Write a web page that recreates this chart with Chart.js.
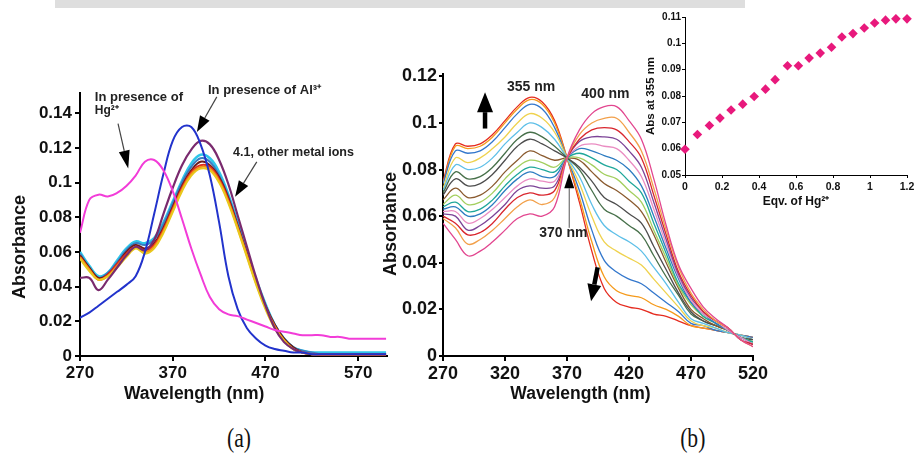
<!DOCTYPE html>
<html>
<head>
<meta charset="utf-8">
<script src="https://cdn.jsdelivr.net/npm/chart.js@4"></script>
<style>
body { margin:0; width:914px; height:460px; overflow:hidden; position:relative; background:#fff; }
canvas { position:absolute; }
#chartA { left:0; top:80px; }
#chartB { left:380px; top:50px; }
#chartC { left:640px; top:0; }
.band { position:absolute; left:55px; top:0; width:690px; height:8px; background:#dedede; }
.panel { position:absolute; top:423px; font-family:"Liberation Serif", serif; font-size:27px; color:#111; transform:scaleX(0.8); }
</style>
</head>
<body>
<div class="band"></div>
<canvas id="chartA" width="400" height="330"></canvas>
<canvas id="chartB" width="420" height="360"></canvas>
<canvas id="chartC" width="290" height="230"></canvas>
<div class="panel" style="left:224px">(a)</div>
<div class="panel" style="left:677px">(b)</div>
<script>
// ---- panel (a): 4.1 with different metal ions ----
const wlA = [270,280,290,300,310,320,330,340,350,360,370,380,390,400,410,420,430,440,450,460,470,480,490,500,510,520,530,540,550,560,570,580,590,600];
const aMagenta = [.071,.090,.093,.092,.094,.098,.104,.112,.113,.107,.095,.079,.062,.047,.034,.027,.024,.023,.021,.019,.017,.015,.014,.013,.012,.012,.012,.011,.011,.010,.010,.010,.010,.010];
const aBlue = [.022,.025,.029,.033,.037,.041,.046,.060,.082,.105,.124,.132,.132,.122,.104,.077,.046,.027,.016,.010,.006,.004,.003,.002,.002,.001,.001,.001,.001,.001,.001,.001,.001,.001];
const aPurple = [.045,.045,.038,.044,.051,.058,.063,.061,.067,.082,.097,.110,.119,.124,.122,.113,.099,.081,.063,.045,.029,.016,.008,.004,.002,.001,.001,.001,.001,.001,.001,.001,.001,.001];
const aYellow = [.056,.049,.044,.046,.051,.057,.062,.059,.062,.071,.083,.095,.104,.108,.107,.100,.088,.073,.057,.041,.027,.016,.009,.004,.002,.001,.001,.001,.001,.001,.001,.001,.001,.001];
const aOrange = [.057,.050,.044,.046,.052,.058,.063,.060,.063,.072,.084,.096,.105,.109,.108,.101,.089,.074,.058,.042,.028,.017,.009,.004,.002,.001,.001,.001,.001,.001,.001,.001,.001,.001];
const aRed = [.057,.050,.044,.047,.053,.059,.063,.061,.064,.073,.085,.097,.106,.110,.109,.102,.090,.074,.058,.042,.028,.017,.009,.004,.002,.001,0,0,0,0,0,0,0,0];
const aMaroon = [.058,.051,.045,.047,.053,.060,.064,.062,.065,.074,.086,.098,.107,.112,.110,.103,.091,.075,.059,.043,.029,.018,.010,.005,.002,.001,0,0,0,0,0,0,0,0];
const aSteel = [.059,.051,.045,.048,.054,.061,.065,.064,.067,.076,.088,.100,.109,.114,.112,.104,.092,.076,.059,.043,.029,.018,.010,.005,.003,.002,.001,.001,.001,.001,.001,.001,.001,.001];
const aCyan = [.060,.052,.046,.048,.055,.062,.066,.065,.068,.077,.089,.101,.111,.116,.114,.106,.093,.077,.060,.044,.030,.018,.010,.005,.003,.002,.002,.002,.002,.002,.002,.002,.002,.002];
const ticksAx = [270,370,470,570];
const ticksAy = [0,0.02,0.04,0.06,0.08,0.1,0.12,0.14];

// ---- panel (b): titration with Hg2+ ----
const wlB = [270,280,290,300,310,320,330,340,350,360,370,380,390,400,410,420,430,440,450,460,470,480,490,500,510,520];
const bSpectra = [
  [.057,.050,.043,.045,.049,.054,.059,.061,.060,.064,.085,.097,.104,.107,.107,.101,.093,.076,.056,.039,.029,.021,.016,.012,.007,.004],
  [.059,.055,.048,.050,.054,.059,.064,.067,.065,.068,.085,.095,.100,.102,.102,.096,.088,.072,.054,.038,.027,.020,.015,.012,.007,.004],
  [.060,.057,.052,.053,.057,.063,.068,.070,.069,.071,.085,.093,.097,.098,.097,.092,.085,.069,.052,.036,.026,.019,.015,.012,.007,.005],
  [.061,.060,.054,.056,.060,.065,.071,.073,.072,.073,.085,.092,.094,.094,.093,.088,.081,.066,.050,.035,.025,.019,.015,.012,.007,.005],
  [.062,.062,.057,.059,.063,.068,.073,.076,.075,.075,.085,.090,.091,.090,.089,.084,.077,.063,.048,.034,.024,.018,.015,.011,.008,.005],
  [.063,.064,.060,.061,.065,.071,.076,.079,.077,.077,.085,.089,.088,.086,.084,.080,.073,.060,.046,.033,.023,.018,.014,.011,.008,.005],
  [.064,.066,.062,.063,.067,.073,.078,.081,.080,.079,.085,.087,.085,.082,.080,.075,.070,.057,.044,.031,.023,.017,.014,.011,.008,.006],
  [.065,.069,.065,.066,.070,.076,.081,.084,.083,.081,.085,.085,.082,.078,.076,.071,.066,.054,.042,.030,.022,.017,.014,.011,.008,.006],
  [.067,.072,.068,.069,.073,.079,.084,.088,.086,.084,.085,.084,.079,.074,.071,.067,.062,.052,.040,.029,.020,.016,.013,.011,.008,.006],
  [.069,.076,.073,.074,.078,.084,.090,.093,.091,.088,.085,.081,.075,.068,.065,.061,.057,.047,.037,.027,.019,.015,.013,.011,.008,.007],
  [.070,.079,.076,.077,.081,.087,.093,.096,.094,.090,.085,.080,.071,.063,.060,.056,.052,.043,.034,.026,.018,.015,.013,.011,.008,.007],
  [.071,.082,.080,.081,.085,.091,.096,.100,.098,.093,.085,.077,.065,.056,.052,.049,.045,.038,.031,.023,.016,.014,.012,.010,.009,.007],
  [.072,.085,.083,.085,.089,.094,.100,.104,.102,.096,.085,.074,.060,.049,.045,.042,.039,.033,.027,.021,.015,.013,.012,.010,.009,.007],
  [.074,.088,.087,.088,.092,.098,.104,.108,.106,.098,.085,.071,.054,.041,.036,.033,.031,.027,.023,.019,.014,.013,.011,.010,.009,.008],
  [.074,.090,.089,.090,.094,.100,.106,.110,.108,.100,.085,.068,.049,.034,.028,.026,.025,.022,.020,.017,.013,.012,.011,.010,.009,.008],
  [.075,.091,.090,.091,.095,.101,.107,.111,.109,.101,.085,.066,.045,.029,.023,.021,.020,.018,.017,.015,.013,.012,.011,.010,.009,.008]
];
const bColors = ['#e2468f','#f2a04a','#d9262e','#7c4397','#ea8cc2','#2d7cc1','#1fa79a','#a3cf5e','#8a5a2e','#4d4d4d','#47704a','#5dbfe8','#efd24e','#3377cc','#f59a1b','#e52b1f'];
const ticksBx = [270,320,370,420,470,520];
const ticksBy = [0,0.02,0.04,0.06,0.08,0.1,0.12];

// ---- inset: abs at 355 nm vs equivalents ----
const eqHg = [0,.067,.132,.189,.249,.312,.374,.435,.487,.554,.613,.671,.731,.792,.848,.908,.969,1.025,1.084,1.14,1.2];
const abs355 = [.0598,.0654,.0688,.0716,.0747,.0769,.0798,.0826,.0862,.0915,.0915,.0944,.0963,.0985,.1024,.1037,.1058,.1077,.1088,.1093,.1093];
const ticksCx = [0,0.2,0.4,0.6,0.8,1,1.2];
const ticksCy = [0.05,0.06,0.07,0.08,0.09,0.1,0.11];

const fontFam = '"Liberation Sans", Arial, sans-serif';

function xy(xs, ys) {
  return ys.map((y, i) => ({x: xs[i], y: y}));
}
function line(xs, ys, color, width) {
  return {data: xy(xs, ys), borderColor: color, borderWidth: width, pointRadius: 0, fill: false, tension: 0.4};
}

function scale(o) {
  return {
    type: 'linear', position: o.pos, min: o.min, max: o.max,
    afterBuildTicks: ax => { ax.ticks = o.ticks.map(v => ({value: v})); },
    afterFit: ax => { if (o.pos === 'left') ax.width = o.size; else ax.height = o.size; },
    border: {display: true, color: '#000', width: o.lw},
    grid: {drawOnChartArea: false, drawTicks: true, tickLength: o.tl, color: '#000', lineWidth: o.lw},
    ticks: {color: '#111', padding: o.pad, autoSkip: false, maxRotation: 0,
      font: {family: fontFam, size: o.fs, weight: 'bold'},
      callback: v => String(+v.toFixed(2))},
    title: {display: true, text: o.title, color: '#111', padding: o.tpad,
      font: {family: fontFam, size: o.tfs, weight: 'bold'}}
  };
}

// text and arrows placed in data units of each panel
function notesPlugin(notes, arrows) {
  return {
    id: 'notes',
    afterDatasetsDraw(chart) {
      const ctx = chart.ctx, sx = chart.scales.x, sy = chart.scales.y;
      ctx.save();
      arrows.forEach(a => {
        const x1 = sx.getPixelForValue(a.from[0]), y1 = sy.getPixelForValue(a.from[1]);
        const x2 = sx.getPixelForValue(a.to[0]), y2 = sy.getPixelForValue(a.to[1]);
        const ang = Math.atan2(y2 - y1, x2 - x1);
        const bx = x2 - a.head * Math.cos(ang), by = y2 - a.head * Math.sin(ang);
        ctx.strokeStyle = a.color; ctx.lineWidth = a.shaft;
        ctx.beginPath(); ctx.moveTo(x1, y1); ctx.lineTo(bx, by); ctx.stroke();
        ctx.fillStyle = '#000';
        ctx.beginPath();
        ctx.moveTo(x2, y2);
        ctx.lineTo(bx + a.half * Math.sin(ang), by - a.half * Math.cos(ang));
        ctx.lineTo(bx - a.half * Math.sin(ang), by + a.half * Math.cos(ang));
        ctx.closePath(); ctx.fill();
      });
      notes.forEach(n => {
        ctx.font = 'bold ' + n.size + 'px ' + fontFam;
        ctx.fillStyle = '#222'; ctx.textAlign = n.align; ctx.textBaseline = 'middle';
        ctx.fillText(n.text, sx.getPixelForValue(n.at[0]), sy.getPixelForValue(n.at[1]));
      });
      ctx.restore();
    }
  };
}

const notesA = [
  {text: 'In presence of', at: [286, 0.1490], align: 'left', size: 13},
  {text: 'Hg²⁺', at: [286, 0.1417], align: 'left', size: 12},
  {text: 'In presence of Al³⁺', at: [408, 0.1532], align: 'left', size: 13},
  {text: '4.1, other metal ions', at: [435, 0.1175], align: 'left', size: 12.5}
];
const arrowsA = [
  {from: [311, 0.1340], to: [322, 0.1081], shaft: 1.2, head: 18, half: 5.5, color: '#444'},
  {from: [417.5, 0.1494], to: [396, 0.1292], shaft: 1.2, head: 16, half: 5.5, color: '#444'},
  {from: [460.6, 0.1119], to: [437.2, 0.0918], shaft: 1.2, head: 16, half: 5.5, color: '#444'}
];
const notesB = [
  {text: '355 nm', at: [341, 0.1153], align: 'center', size: 14},
  {text: '400 nm', at: [401, 0.1123], align: 'center', size: 14},
  {text: '370 nm', at: [367, 0.0528], align: 'center', size: 14}
];
const arrowsB = [
  {from: [303.9, 0.0976], to: [303.9, 0.1132], shaft: 4.5, head: 20, half: 8, color: '#000'},
  {from: [394.7, 0.0380], to: [389.4, 0.0235], shaft: 4.5, head: 17, half: 7, color: '#000'},
  {from: [371.8, 0.0550], to: [371.8, 0.0784], shaft: 1, head: 15, half: 5, color: '#555'}
];

const baseOpts = {
  responsive: false, animation: false, devicePixelRatio: 1,
  plugins: {legend: {display: false}, tooltip: {enabled: false}}
};

new Chart(document.getElementById('chartA'), {
  type: 'line',
  data: {datasets: [
    line(wlA, aMagenta, '#f23cd8', 2),
    line(wlA, aBlue, '#2233cc', 2),
    line(wlA, aPurple, '#7a2a6e', 2.2),
    line(wlA, aYellow, '#e9c81c', 2),
    line(wlA, aOrange, '#f39019', 2),
    line(wlA, aRed, '#e02a1f', 2),
    line(wlA, aMaroon, '#6e1a1a', 2),
    line(wlA, aSteel, '#3a7cc0', 2),
    line(wlA, aCyan, '#2ec6ea', 2.6)
  ]},
  options: Object.assign({}, baseOpts, {
    layout: {padding: {top: 13, right: 13, left: 0, bottom: 0}},
    scales: {
      x: scale({pos: 'bottom', min: 270, max: 601, ticks: ticksAx, size: 54, lw: 2, tl: 5, pad: 2, fs: 17,
        title: 'Wavelength (nm)' + '\u2002'.repeat(9), tpad: {top: 0, bottom: 5}, tfs: 17.5}),
      y: scale({pos: 'left', min: 0, max: 0.1515, ticks: ticksAy, size: 80, lw: 2, tl: 5, pad: 3, fs: 17,
        title: 'Absorbance' + '\u2002'.repeat(5), tpad: {top: 9, bottom: 0}, tfs: 18})
    }
  }),
  plugins: [notesPlugin(notesA, arrowsA)]
});

new Chart(document.getElementById('chartB'), {
  type: 'line',
  data: {datasets: bSpectra.map((s, i) => line(wlB, s, bColors[i], 1.3))},
  options: Object.assign({}, baseOpts, {
    layout: {padding: {top: 24, right: 47, left: 0, bottom: 0}},
    scales: {
      x: scale({pos: 'bottom', min: 270, max: 520, ticks: ticksBx, size: 54, lw: 2, tl: 5, pad: 2, fs: 18,
        title: 'Wavelength (nm)' + '\u2002'.repeat(4), tpad: {top: 0, bottom: 5}, tfs: 17.5}),
      y: scale({pos: 'left', min: 0, max: 0.121, ticks: ticksBy, size: 63, lw: 2, tl: 4, pad: 2, fs: 18,
        title: 'Absorbance' + '\u2002'.repeat(2), tpad: {top: 0, bottom: 0}, tfs: 18})
    }
  }),
  plugins: [notesPlugin(notesB, arrowsB)]
});

new Chart(document.getElementById('chartC'), {
  type: 'scatter',
  data: {datasets: [{
    data: xy(eqHg, abs355), pointStyle: 'rectRot', pointRadius: 4.8,
    backgroundColor: '#e8197c', borderColor: '#e8197c', borderWidth: 0, clip: false
  }]},
  options: Object.assign({}, baseOpts, {
    layout: {padding: {top: 17, right: 23, left: 0, bottom: 0}},
    scales: {
      x: scale({pos: 'bottom', min: 0, max: 1.2, ticks: ticksCx, size: 55, lw: 1, tl: 3, pad: 3, fs: 10.5,
        title: 'Eqv. of Hg²⁺', tpad: {top: 0, bottom: 21}, tfs: 12}),
      y: scale({pos: 'left', min: 0.05, max: 0.11, ticks: ticksCy, size: 45, lw: 1, tl: 3, pad: 1, fs: 10,
        title: 'Abs at 355 nm', tpad: {top: 4, bottom: 0}, tfs: 11.5})
    }
  })
});
</script>
</body>
</html>
